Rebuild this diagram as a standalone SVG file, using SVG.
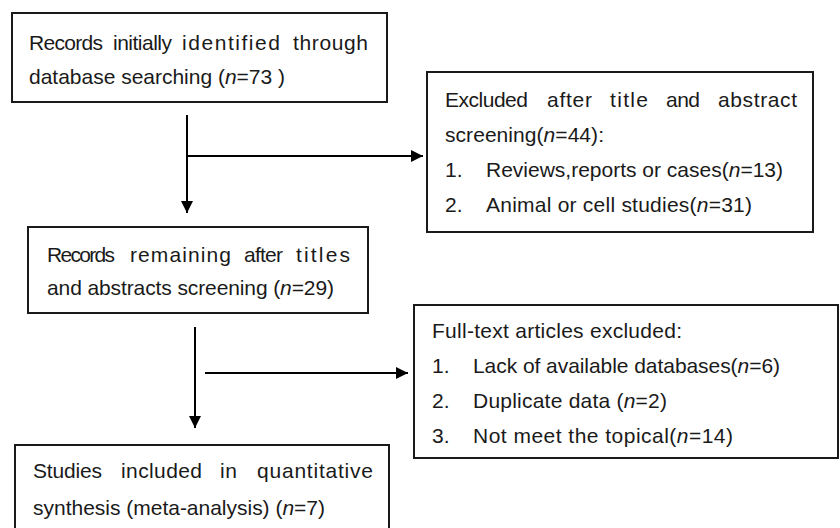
<svg xmlns="http://www.w3.org/2000/svg" width="840" height="528" viewBox="0 0 840 528">
<style>
.box{fill:#fff;stroke:#1a1a1a;stroke-width:2}
.t{font-family:"Liberation Sans",Arial,sans-serif;font-size:21px;fill:#1a1a1a}
.i{font-style:italic}
.ln{stroke:#000;stroke-width:2;fill:none}
</style>
<defs>
<marker id="ah" markerWidth="12" markerHeight="12" viewBox="0 0 12 12" refX="12" refY="6" orient="auto" markerUnits="userSpaceOnUse">
<path d="M0,0 L12,6 L0,12 Z" fill="#000"/>
</marker>
</defs>
<rect width="840" height="528" fill="#fff"/>
<g id="connectors">
<line class="ln" x1="187" y1="115" x2="187" y2="213" marker-end="url(#ah)"/>
<line class="ln" x1="187" y1="156" x2="423" y2="156" marker-end="url(#ah)"/>
<line class="ln" x1="195" y1="327" x2="195" y2="428" marker-end="url(#ah)"/>
<line class="ln" x1="205" y1="373" x2="408" y2="373" marker-end="url(#ah)"/>
</g>
<g id="n1">
<rect class="box" x="12" y="13" width="375" height="89"/>
<text class="t" x="29" y="50" textLength="74" lengthAdjust="spacing">Records</text>
<text class="t" x="113" y="50" textLength="59" lengthAdjust="spacing">initially</text>
<text class="t" x="182" y="50" textLength="98" lengthAdjust="spacing">identified</text>
<text class="t" x="293" y="50" textLength="75" lengthAdjust="spacing">through</text>
<text class="t" x="29" y="84" textLength="256" lengthAdjust="spacing">database searching (<tspan class="i">n</tspan>=73 )</text>
</g>
<g id="n2">
<rect class="box" x="427" y="72" width="386" height="160"/>
<text class="t" x="445" y="107" textLength="83" lengthAdjust="spacing">Excluded</text>
<text class="t" x="547" y="107" textLength="45" lengthAdjust="spacing">after</text>
<text class="t" x="610" y="107" textLength="38" lengthAdjust="spacing">title</text>
<text class="t" x="666" y="107" textLength="34" lengthAdjust="spacing">and</text>
<text class="t" x="718" y="107" textLength="79" lengthAdjust="spacing">abstract</text>
<text class="t" x="445" y="142" textLength="159" lengthAdjust="spacing">screening(<tspan class="i">n</tspan>=44):</text>
<text class="t" x="445" y="177">1.</text>
<text class="t" x="486" y="177" textLength="297" lengthAdjust="spacing">Reviews,reports or cases(<tspan class="i">n</tspan>=13)</text>
<text class="t" x="445" y="212">2.</text>
<text class="t" x="486" y="212" textLength="266" lengthAdjust="spacing">Animal or cell studies(<tspan class="i">n</tspan>=31)</text>
</g>
<g id="n3">
<rect class="box" x="28" y="227" width="340" height="86"/>
<text class="t" x="47" y="262" textLength="68" lengthAdjust="spacing">Records</text>
<text class="t" x="130" y="262" textLength="101" lengthAdjust="spacing">remaining</text>
<text class="t" x="244" y="262" textLength="39" lengthAdjust="spacing">after</text>
<text class="t" x="296" y="262" textLength="54" lengthAdjust="spacing">titles</text>
<text class="t" x="47" y="295" textLength="287" lengthAdjust="spacing">and abstracts screening (<tspan class="i">n</tspan>=29)</text>
</g>
<g id="n4">
<rect class="box" x="414" y="305" width="424" height="153"/>
<text class="t" x="432" y="338" textLength="250" lengthAdjust="spacing">Full-text articles excluded:</text>
<text class="t" x="432" y="373">1.</text>
<text class="t" x="473" y="373" textLength="307" lengthAdjust="spacing">Lack of available databases(<tspan class="i">n</tspan>=6)</text>
<text class="t" x="432" y="408">2.</text>
<text class="t" x="473" y="408" textLength="194" lengthAdjust="spacing">Duplicate data (<tspan class="i">n</tspan>=2)</text>
<text class="t" x="432" y="443">3.</text>
<text class="t" x="473" y="443" textLength="260" lengthAdjust="spacing">Not meet the topical(<tspan class="i">n</tspan>=14)</text>
</g>
<g id="n5">
<rect class="box" x="15" y="445" width="374" height="100"/>
<text class="t" x="33" y="478" textLength="69" lengthAdjust="spacing">Studies</text>
<text class="t" x="121" y="478" textLength="81" lengthAdjust="spacing">included</text>
<text class="t" x="220" y="478" textLength="17" lengthAdjust="spacing">in</text>
<text class="t" x="257" y="478" textLength="116" lengthAdjust="spacing">quantitative</text>
<text class="t" x="33" y="515" textLength="292" lengthAdjust="spacing">synthesis (meta-analysis) (<tspan class="i">n</tspan>=7)</text>
</g>
</svg>
